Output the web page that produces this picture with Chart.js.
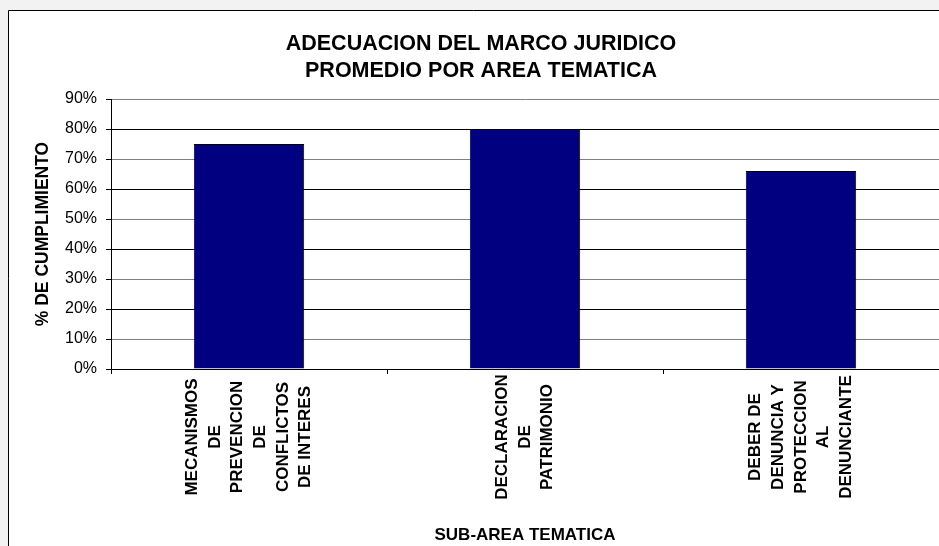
<!DOCTYPE html>
<html>
<head>
<meta charset="utf-8">
<title>Adecuacion del marco juridico</title>
<script src="https://cdn.jsdelivr.net/npm/chart.js@4"></script>
<style>
  html, body { margin: 0; padding: 0; background: #f2f2f2; }
  #wrap { width: 939px; height: 546px; }
</style>
</head>
<body>
<div id="wrap"><canvas id="barChart" width="939" height="546"></canvas></div>
<script>
// datos del grafico
var titulo = ['ADECUACION DEL MARCO JURIDICO', 'PROMEDIO POR AREA TEMATICA'];
var tituloY = '% DE CUMPLIMIENTO';
var tituloX = 'SUB-AREA TEMATICA';
var areas = [
	['MECANISMOS', 'DE', 'PREVENCION', 'DE', 'CONFLICTOS', 'DE INTERES'],
	['DECLARACION', 'DE', 'PATRIMONIO'],
	['DEBER DE', 'DENUNCIA Y', 'PROTECCION', 'AL', 'DENUNCIANTE']
];
var cumplimiento = [75, 80, 66];
var ticksY = [0, 10, 20, 30, 40, 50, 60, 70, 80, 90];

var fuente = "'Liberation Sans', Arial, Helvetica, sans-serif";

// marco, titulos y etiquetas centradas (Chart.js alinea a la derecha las etiquetas giradas)
var marcoPlugin = {
	id: 'marco',
	beforeDraw: function(chart) {
		var ctx = chart.ctx;
		ctx.save();
		ctx.fillStyle = '#f2f2f2';
		ctx.fillRect(0, 0, chart.width, chart.height);
		ctx.fillStyle = '#ffffff';
		ctx.fillRect(8, 10, chart.width - 8, chart.height - 10);
		ctx.strokeStyle = '#000';
		ctx.lineWidth = 1;
		ctx.beginPath();
		ctx.moveTo(8.5, chart.height);
		ctx.lineTo(8.5, 10.5);
		ctx.lineTo(chart.width, 10.5);
		ctx.stroke();
		ctx.restore();
	},
	afterDraw: function(chart) {
		var ctx = chart.ctx;
		var x = chart.scales.x;
		var area = chart.chartArea;
		ctx.save();
		ctx.fillStyle = '#000';
		ctx.textAlign = 'center';
		ctx.textBaseline = 'middle';

		// titulo principal
		ctx.font = 'bold 21.5px ' + fuente;
		ctx.fillText(titulo[0], 481, 44);
		ctx.fillText(titulo[1], 481, 71);

		// titulo eje x
		ctx.font = 'bold 17px ' + fuente;
		ctx.fillText(tituloX, (area.left + area.right) / 2, 535);

		// titulo eje y
		ctx.font = 'bold 17.5px ' + fuente;
		ctx.save();
		ctx.translate(43, (area.top + area.bottom) / 2);
		ctx.rotate(-Math.PI / 2);
		ctx.fillText(tituloY, 0, 0);
		ctx.restore();

		// etiquetas de categorias, giradas y centradas
		ctx.font = 'bold 17px ' + fuente;
		var lh = 22.6;
		areas.forEach(function(lineas, i) {
			var cx = x.getPixelForValue(i);
			lineas.forEach(function(txt, j) {
				ctx.save();
				ctx.translate(cx + (j - (lineas.length - 1) / 2) * lh, 437);
				ctx.rotate(-Math.PI / 2);
				ctx.fillText(txt, 0, 0);
				ctx.restore();
			});
		});
		ctx.restore();
	}
};

var context = document.getElementById('barChart').getContext('2d');

var myChart = new Chart(context, {
	type: 'bar',
	data: {
		labels: areas,
		datasets: [
			{
				label: tituloY,
				data: cumplimiento,
				backgroundColor: '#000080',
				borderColor: '#000000',
				borderWidth: 1,
				borderSkipped: 'bottom',
				barPercentage: 0.4,
				categoryPercentage: 1.0
			}
		]
	},
	options: {
		responsive: false,
		animation: false,
		events: [],
		layout: {
			padding: { top: 99, left: 0, right: 0, bottom: 0 }
		},
		plugins: {
			legend: { display: false },
			title: { display: false },
			tooltip: { enabled: false }
		},
		scales: {
			x: {
				afterFit: function(scale) { scale.height = 177; },
				ticks: { display: false },
				grid: {
					offset: true,
					drawOnChartArea: false,
					drawTicks: true,
					tickLength: 5,
					tickColor: '#000'
				},
				border: { color: '#000', width: 1 }
			},
			y: {
				min: 0,
				max: 90,
				afterFit: function(scale) { scale.width = 111; },
				afterBuildTicks: function(scale) {
					scale.ticks = ticksY.map(function(v) { return { value: v }; });
				},
				ticks: {
					padding: 9,
					color: '#000',
					font: { family: fuente, size: 16 },
					callback: function(v) { return v + '%'; }
				},
				grid: {
					color: function(c) {
						return c.tick && c.tick.value % 20 === 0 ? '#000' : '#808080';
					},
					tickLength: 5,
					tickColor: '#000'
				},
				border: { color: '#000', width: 1 }
			}
		}
	},
	plugins: [marcoPlugin]
});
</script>
</body>
</html>
